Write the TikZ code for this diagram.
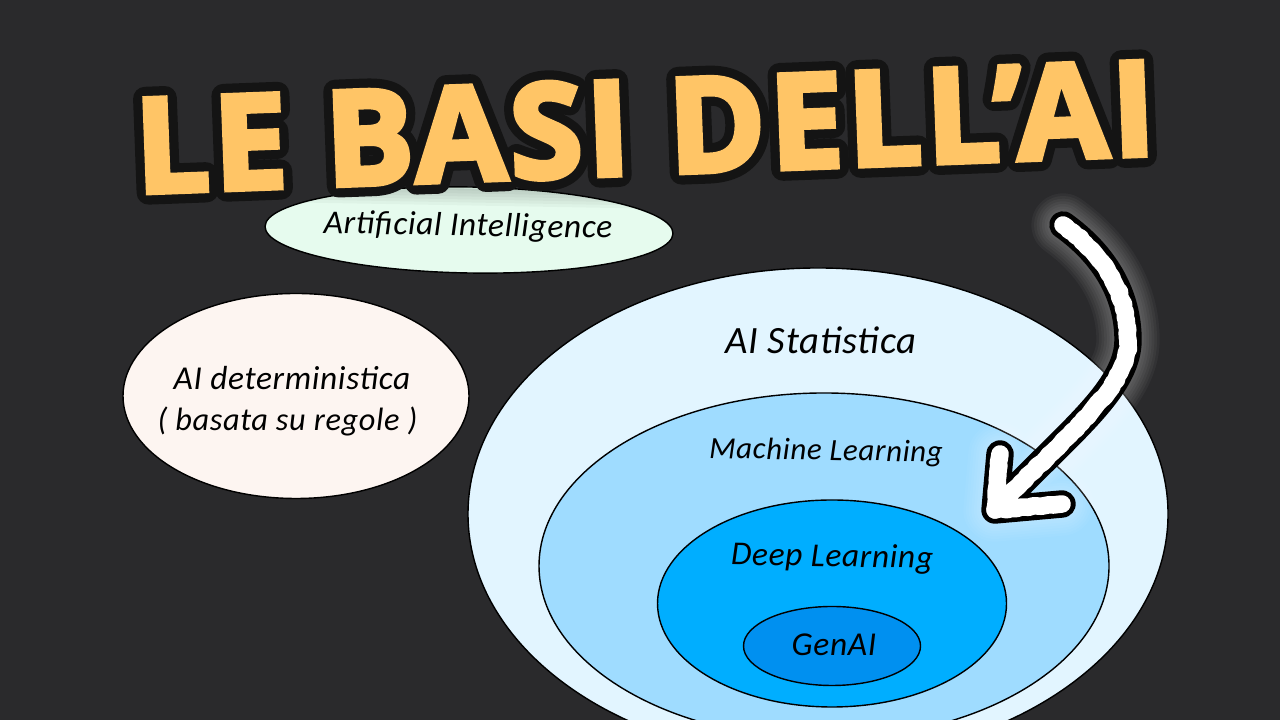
\documentclass[tikz,border=0pt]{standalone}
\usepackage{fontspec}
\usepackage{xcolor}
\usetikzlibrary{shapes.geometric,decorations.pathmorphing}
\newfontfamily\titlefont[BoldFeatures={FakeBold=4}, LetterSpace=3]{Open Sans}
\newfontfamily\titleback[BoldFeatures={FakeBold=18}, LetterSpace=3]{Open Sans}
\newfontfamily\handfont[LetterSpace=2]{Carlito}
\definecolor{bgdark}{HTML}{2A2A2C}
\definecolor{titlefill}{HTML}{FFC566}
\definecolor{titleedge}{HTML}{141414}
\definecolor{aicol}{HTML}{E6FBEE}
\definecolor{detcol}{HTML}{FDF5F1}
\definecolor{statcol}{HTML}{E2F5FF}
\definecolor{mlcol}{HTML}{9FDCFF}
\definecolor{deepcol}{HTML}{00AEFF}
\definecolor{gencol}{HTML}{0090F0}
\newcommand{\titleAngle}{2.15}
\newcommand{\titleText}{LE BASI DELL’AI}
\tikzset{
	blob/.style={ellipse, draw=black, line width=0.4pt, inner sep=0pt},
	hand/.style={font=\handfont\itshape\fontsize{9.5}{12}\selectfont, text=black, inner sep=0pt},
	small hand/.style={font=\handfont\itshape\fontsize{9.2}{10}\selectfont, text=black, inner sep=0pt},
	wide hand/.style={font=\handfont\itshape\fontsize{11}{12}\selectfont, text=black, inner sep=0pt},
	narrow hand/.style={font=\handfont\itshape\fontsize{8.8}{12}\selectfont, text=black, inner sep=0pt},
	arrow line/.style={line cap=round, line join=round},
}

\begin{document}
\begin{tikzpicture}
	\clip (0,0) rectangle (12.8,7.2);
	\fill[bgdark] (0,0) rectangle (12.8,7.2);

	\node[blob, fill=aicol, rotate=-1, minimum width=4.08cm, minimum height=0.86cm, path picture={
		\foreach \d in {0.03,0.06,...,0.25}{
			\fill[black, opacity=0.03] (path picture bounding box.north west) rectangle ([yshift=-\d cm]path picture bounding box.north east);
		}
	}] (ai) at (4.69,4.90) {};
	\node[blob, fill=detcol, minimum width=3.46cm, minimum height=2.05cm] (det) at (2.96,3.24) {};
	\node[blob, fill=statcol, minimum width=7.00cm, minimum height=4.92cm] (stat) at (8.18,2.06) {};
	\node[blob, fill=mlcol, minimum width=5.70cm, minimum height=3.46cm] (ml) at (8.24,1.54) {};
	\node[blob, fill=deepcol, minimum width=3.49cm, minimum height=2.07cm] (deep) at (8.32,1.165) {};
	\node[blob, fill=gencol, minimum width=1.77cm, minimum height=0.79cm] (gen) at (8.32,0.74) {};

	\node[hand, rotate=-1] (aiLabel) at (4.68,4.93) {Artificial Intelligence};
	\node[hand] (detLabel) at (2.92,3.42) {AI deterministica};
	\node[small hand] (detNote) at (2.875,2.99) {( basata su regole )};
	\node[wide hand] (statLabel) at (8.21,3.80) {AI Statistica};
	\node[narrow hand, rotate=-1] (mlLabel) at (8.26,2.68) {Machine Learning};
	\node[hand, rotate=-1] (deepLabel) at (8.32,1.62) {Deep Learning};
	\node[hand] (genLabel) at (8.34,0.75) {GenAI};

	\coordinate (arrowStart) at (10.63,4.95);
	\coordinate (arrowBend) at (11.28,3.80);
	\coordinate (arrowTip) at (9.95,2.10);
	\coordinate (armLeft) at (10.00,2.66);
	\coordinate (armRight) at (10.62,2.16);
	\foreach \w in {9,10.5,...,18}{
		\draw[white, opacity=0.04, line width=\w pt, arrow line] (arrowStart) .. controls (11.05,4.65) and (11.28,4.25) .. (arrowBend) .. controls (11.28,3.30) and (10.65,2.85) .. (arrowTip) (armLeft) -- (arrowTip) -- (armRight);
	}
	\draw[black, line width=7.8pt, arrow line] (arrowStart) .. controls (11.05,4.65) and (11.28,4.25) .. (arrowBend) .. controls (11.28,3.30) and (10.65,2.85) .. (arrowTip) (armLeft) -- (arrowTip) -- (armRight);
	\draw[white, line width=5pt, arrow line, decorate, decoration={random steps, segment length=1.2pt, amplitude=0.25pt}] (arrowStart) .. controls (11.05,4.65) and (11.28,4.25) .. (arrowBend) .. controls (11.28,3.30) and (10.65,2.85) .. (arrowTip);
	\draw[white, line width=5pt, arrow line, decorate, decoration={random steps, segment length=1.2pt, amplitude=0.25pt}] (armLeft) -- (arrowTip) -- (armRight);

	\begin{scope}[line join=round]
		\pgfsetroundjoin
		\node[rotate=\titleAngle, font=\fontsize{37.5}{40}\selectfont, inner sep=0pt] (title) at (6.45,5.93) {\rlap{\textcolor{titleedge}{\titleback\bfseries\titleText}}\pgfsetmiterjoin\textcolor{titlefill}{\titlefont\bfseries\titleText}};
	\end{scope}
\end{tikzpicture}
\end{document}
